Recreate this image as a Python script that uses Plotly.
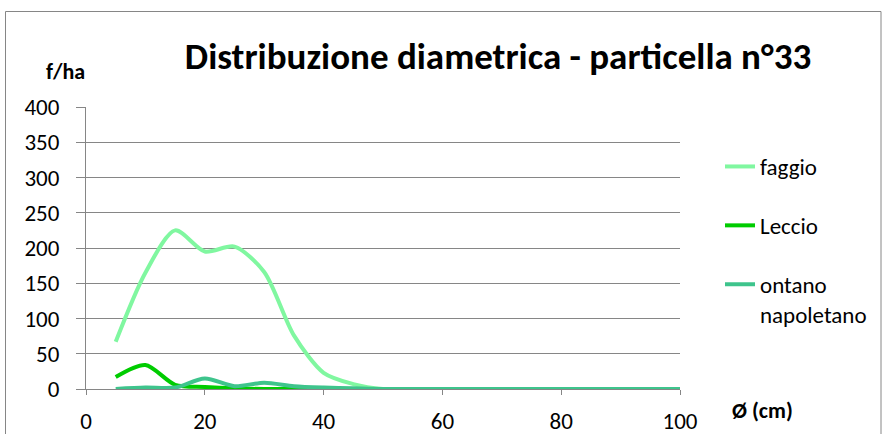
import plotly.graph_objects as go

diametri = [5, 10, 15, 20, 25, 30, 35, 40, 45, 50, 55, 60, 65, 70, 75, 80, 85, 90, 95, 100]
faggio = [67, 165, 225, 195, 202, 166, 76, 23, 7, 0, 0, 0, 0, 0, 0, 0, 0, 0, 0, 0]
leccio = [17, 34, 6, 3, 1, 0, 0, 0, 0, 0, 0, 0, 0, 0, 0, 0, 0, 0, 0, 0]
ontano = [0, 2, 2, 15, 4, 9, 4, 2, 1, 0, 0, 0, 0, 0, 0, 0, 0, 0, 0, 0]
y_ticks = [0, 50, 100, 150, 200, 250, 300, 350, 400]
x_ticks = [0, 20, 40, 60, 80, 100]

FONT = "Carlito, Lato, 'Open Sans', sans-serif"

fig = go.Figure()
series = [
    ("faggio", faggio, "#80F7A0"),
    ("Leccio", leccio, "#00CC00"),
    ("ontano<br>napoletano", ontano, "#3EC48C"),
]
for i, (name, vals, col) in enumerate(series):
    fig.add_trace(go.Scatter(
        x=diametri, y=vals, name=name, mode="lines", legendgroup="g%d" % i,
        line=dict(color=col, width=4, shape="spline", smoothing=0.8),
    ))

fig.update_layout(
    width=882, height=434,
    margin=dict(l=86, r=202, t=107, b=45, autoexpand=False),
    paper_bgcolor="white", plot_bgcolor="white",
    font=dict(family=FONT, size=23, color="black"),
    title=dict(text="<b>Distribuzione diametrica - particella n°33</b>",
               x=498 / 882, xanchor="center", y=1 - 56 / 434, yanchor="middle",
               font=dict(size=37, family=FONT)),
    legend=dict(x=(720 - 86) / 594, xanchor="left", y=(389 - 145) / 282, yanchor="top",
                font=dict(size=23), tracegroupgap=26, valign="top",
                bgcolor="rgba(0,0,0,0)"),
    showlegend=True,
)
fig.update_xaxes(range=[0, 100], tickvals=x_ticks, showgrid=False, automargin=False,
                 showline=True, linecolor="#868686", linewidth=1,
                 ticks="outside", ticklen=5, tickcolor="#868686",
                 ticklabelstandoff=6, zeroline=False)
fig.update_yaxes(range=[0, 400], tickvals=y_ticks, showgrid=True, automargin=False,
                 gridcolor="#868686", gridwidth=1,
                 showline=True, linecolor="#868686", linewidth=1,
                 ticks="outside", ticklen=9, tickcolor="#868686",
                 ticklabelstandoff=12, zeroline=False)

fig.add_annotation(text="<b>f/ha</b>", xref="paper", yref="paper",
                   x=(65 - 86) / 594, y=(389 - 71) / 282, showarrow=False,
                   font=dict(size=22), xanchor="center", yanchor="middle")
fig.add_annotation(text="<b>Ø (cm)</b>", xref="paper", yref="paper",
                   x=(762 - 86) / 594, y=(389 - 410) / 282, showarrow=False,
                   font=dict(size=22), xanchor="center", yanchor="middle")
fig.add_shape(type="rect", xref="paper", yref="paper",
              x0=(5.5 - 86) / 594, x1=(881 - 86) / 594,
              y0=(389 - 440) / 282, y1=(389 - 11.5) / 282,
              line=dict(color="#868686", width=1), layer="below")

fig.write_html("out.html", config={"displayModeBar": False},
               post_script="document.body.style.margin='0';")
